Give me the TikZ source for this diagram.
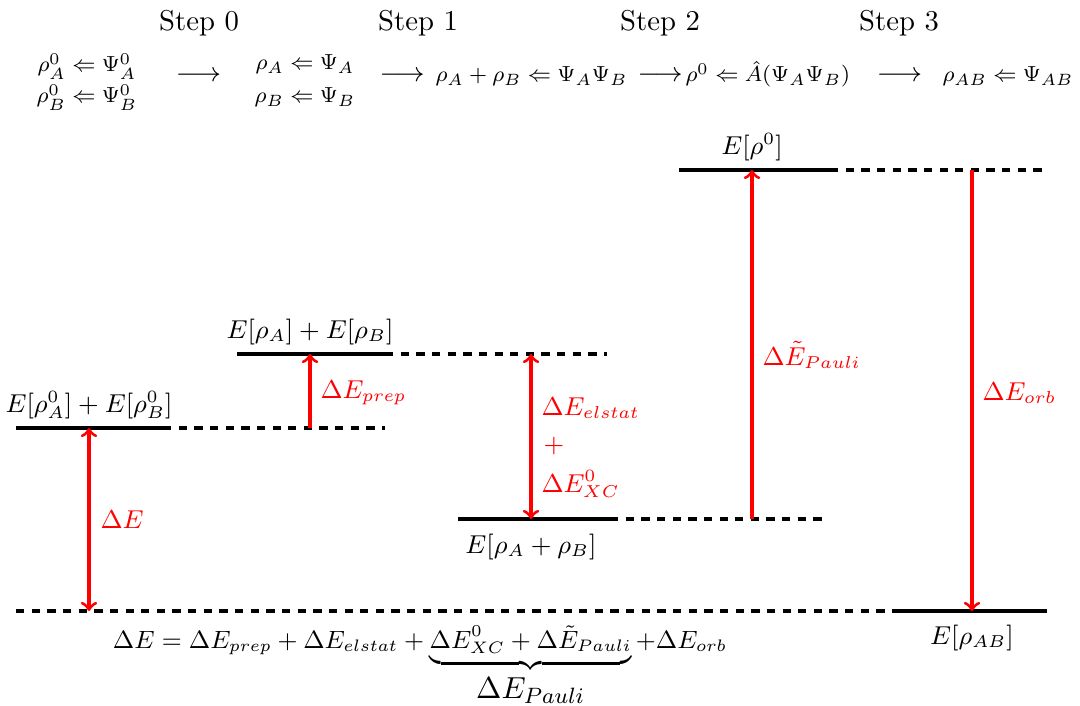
\documentclass[tikz,border=0pt]{standalone}
\usepackage{amsmath}
\usepackage{graphicx}
\newcommand{\topm}[1]{\scalebox{0.95}{\footnotesize$#1$}}
\newcommand{\toparr}{\scalebox{1.055}{\small$\longrightarrow$}}
\begin{document}
\begin{tikzpicture}[x=0.3484pt,y=-0.3484pt,
  lvl/.style={line width=1.2pt},
  dsh/.style={line width=1.2pt,dash pattern=on 2.9pt off 2.55pt},
  ra/.style={red,line width=1.1pt},
  rl/.style={red,anchor=west,inner sep=0pt,font=\small},
  blab/.style={anchor=base,inner sep=0pt,font=\small},
  steplab/.style={anchor=base,inner sep=0pt},
  toptext/.style={anchor=base,inner sep=0pt}]
\useasboundingbox (0,0) rectangle (1080,706);
% step titles
\node[steplab] (s0) at (199,31) {Step 0};
\node[steplab] (s1) at (418,31) {Step 1};
\node[steplab] (s2) at (660,31) {Step 2};
\node[steplab] (s3) at (899,31) {Step 3};
% top formulas
\node[toptext] (f0a) at (87,72) {\topm{\rho^0_A \Leftarrow \Psi^0_A}};
\node[toptext] (f0b) at (87,103) {\topm{\rho^0_B \Leftarrow \Psi^0_B}};
\node[toptext] (ar0) at (198.5,82) {\toparr};
\node[toptext] (f1a) at (305,70) {\topm{\rho_A \Leftarrow \Psi_A}};
\node[toptext] (f1b) at (305,103) {\topm{\rho_B \Leftarrow \Psi_B}};
\node[toptext,anchor=base west] (ar1) at (379,82) {\toparr};
\node[toptext,anchor=base west] (f2) at (435,82) {\topm{\rho_A+\rho_B \Leftarrow \Psi_A\Psi_B}};
\node[toptext,anchor=base west] (ar2) at (637,82) {\toparr};
\node[toptext,anchor=base west] (f3) at (685,82) {\topm{\rho^0 \Leftarrow \hat{A}(\Psi_A\Psi_B)}};
\node[toptext] (ar3) at (899.5,82) {\toparr};
\node[toptext] (f4) at (1008,82) {\topm{\rho_{AB} \Leftarrow \Psi_{AB}}};
% level coordinates
\coordinate (L0a) at (16,428);  \coordinate (L0b) at (163,428); \coordinate (L0c) at (385,428);
\coordinate (L1a) at (237,354); \coordinate (L1b) at (385,354); \coordinate (L1c) at (607,354);
\coordinate (L2a) at (458,519); \coordinate (L2b) at (610,519); \coordinate (L2c) at (828,519);
\coordinate (L3a) at (679,170); \coordinate (L3b) at (830,170); \coordinate (L3c) at (1047,170);
\coordinate (L4a) at (16,611);  \coordinate (L4b) at (900,611); \coordinate (L4c) at (1047,611);
\draw[lvl] (L0a) -- (L0b); \draw[dsh] (L0b) -- (L0c);
\draw[lvl] (L1a) -- (L1b); \draw[dsh] (L1b) -- (L1c);
\draw[lvl] (L2a) -- (L2b); \draw[dsh] (L2b) -- (L2c);
\draw[lvl] (L3a) -- (L3b); \draw[dsh] (L3b) -- (L3c);
\draw[dsh] (L4a) -- (L4b); \draw[lvl] (L4b) -- (L4c);
% level labels
\node[blab] (E0) at (89,413) {$E[\rho^0_A]+E[\rho^0_B]$};
\node[blab] (E1) at (310,339) {$E[\rho_A]+E[\rho_B]$};
\node[blab] (E2) at (531,554) {$E[\rho_A+\rho_B]$};
\node[blab] (E3) at (752,155) {$E[\rho^0]$};
\node[blab] (E4) at (972,645) {$E[\rho_{AB}]$};
% red arrow endpoints
\coordinate (p0t) at (89,428);  \coordinate (p0b) at (89,611);
\coordinate (p1t) at (310,354); \coordinate (p1b) at (310,428);
\coordinate (p2t) at (531,354); \coordinate (p2b) at (531,519);
\coordinate (p3t) at (752,170); \coordinate (p3b) at (752,519);
\coordinate (p4t) at (972,170); \coordinate (p4b) at (972,611);
\draw[ra,<->] (p0t) -- (p0b);
\draw[ra,->] (p1b) -- (p1t);
\draw[ra,<->] (p2t) -- (p2b);
\draw[ra,->] (p3b) -- (p3t);
\draw[ra,->] (p4t) -- (p4b);
% red labels
\node[rl] (dE) at (100,520) {$\Delta E$};
\node[rl] (dEp) at (320,393) {$\Delta E_{prep}$};
\node[rl] (dEe) at (541,408) {$\Delta E_{elstat}$};
\node[rl] (pl) at (543,446) {$+$};
\node[rl] (dEx) at (541,484) {$\Delta E^0_{XC}$};
\node[rl] (dEP) at (762,355) {$\Delta \tilde{E}_{Pauli}$};
\node[rl] (dEo) at (982,393) {$\Delta E_{orb}$};
% bottom equation
\node[blab] (eq) at (420,649) {\scalebox{0.967}{$\Delta E = \Delta E_{prep} + \Delta E_{elstat} + \underbrace{\Delta E^0_{XC} + \Delta \tilde{E}_{Pauli}}_{\mbox{\fontsize{10.95}{13}\selectfont$\Delta E_{Pauli}$}} + \Delta E_{orb}$}};
\end{tikzpicture}
\end{document}
